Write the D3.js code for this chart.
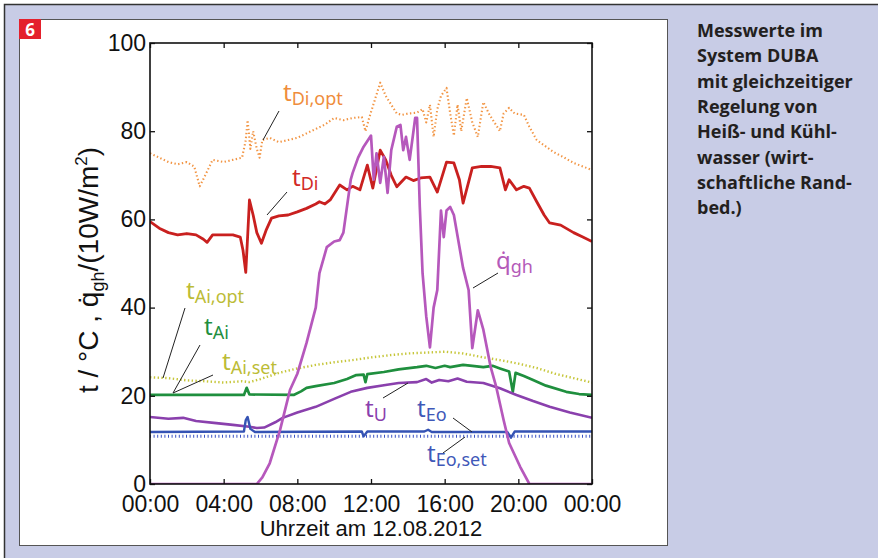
<!DOCTYPE html>
<html>
<head>
<meta charset="utf-8">
<script src="https://cdn.jsdelivr.net/npm/d3@7"></script>
<style>
    html, body { margin: 0; padding: 0; background: #fff; }
    svg { display: block; }
    .axis text { font-family: "Liberation Sans", Arial, sans-serif; font-size: 23px; fill: #111; }
    .axis line { stroke: #111; stroke-width: 1.3; }
    .lbl { font-family: "Noto Sans", sans-serif; }
    .caption { font-family: "Open Sans", sans-serif; font-weight: 700; font-size: 18px; fill: #231f20; }
</style>
</head>
<body>
<svg id="chart" width="878" height="558"></svg>
<script>
// tick positions (hours) and labels
const xTickHours = [0, 4, 8, 12, 16, 20, 24];
const xTickLabels = ['00:00', '04:00', '08:00', '12:00', '16:00', '20:00', '00:00'];
const yTicks = [0, 20, 40, 60, 80, 100];

// [hour, value]
const tDiOpt = [[0,75],[0.5,74],[1,73],[1.5,72.5],[2,73],[2.4,72],[2.7,67.5],[3,70],[3.4,73.5],[4,73],[4.5,73.5],[5,74],
    [5.2,78],[5.3,82.5],[5.45,76],[5.6,80],[5.8,76],[5.95,74],[6.1,78],[6.5,78.5],[7,77.5],[7.5,78],[8,78.5],[8.5,79.5],
    [9,80.5],[9.5,81.5],[10,83],[10.5,82.5],[11,83],[11.5,83.2],[11.7,80],[11.9,83],[12.2,87],[12.5,91],[12.8,88],[13.1,86],
    [13.4,84],[13.7,83.7],[14,84],[14.5,84.2],[14.8,85],[15,82],[15.2,86],[15.4,78.7],[15.6,85],[15.8,88],[16.1,89.8],
    [16.3,84],[16.5,79],[16.7,86],[16.9,80],[17.2,87.5],[17.5,82],[17.8,78.7],[18.1,86.6],[18.4,84],[18.7,82],[19,80],
    [19.2,84],[19.5,85.3],[19.8,84],[20.3,83.7],[20.6,81],[21,78],[21.5,76.5],[21.9,75.3],[22.5,74],[23,72.8],[23.5,72],[24,71.2]];

const tDi = [[0,59.5],[0.5,58],[1,57],[1.5,56.5],[2,56.8],[2.5,56.5],[2.9,55.5],[3.1,54.8],[3.4,56.5],[4,56.5],[4.5,56.5],
    [4.9,56],[5.05,53],[5.2,48],[5.3,56],[5.4,64.4],[5.6,61],[5.8,57],[6.05,54.6],[6.3,57.5],[6.6,60.3],[7,60.8],[7.5,61],
    [8,61.7],[8.5,62.5],[9,63.5],[9.2,64],[9.5,63.5],[9.8,64.5],[10.3,67.8],[10.7,66.7],[11,67.5],[11.4,66.7],[11.8,72.3],
    [12.1,67.1],[12.5,75.7],[12.8,73.5],[13.1,70],[13.4,67.4],[13.9,69.6],[14.3,68.8],[14.7,69.4],[15.2,69.6],[15.6,66.2],
    [16.1,73],[16.5,72.8],[16.8,69],[17,63.7],[17.5,71.7],[18,72],[18.5,72],[19,71.7],[19.3,66.7],[19.5,69],[19.9,66.7],
    [20.3,67.5],[20.6,67.1],[21,64],[21.4,61],[21.7,59.2],[22.3,58.7],[23,57],[23.5,56],[24,55]];

const qgh = [[0,0],[5.8,0],[6.1,1.5],[6.5,4.7],[7.06,12.2],[7.6,21.3],[8,25],[8.5,32],[9,40],[9.2,47.8],[9.6,53.7],[10,55],
    [10.3,55.3],[10.5,57],[10.9,69],[11,70.5],[11.3,74],[11.6,76.5],[12,79],[12.15,69],[12.3,75],[12.5,68.3],[12.7,74.2],
    [12.9,66],[13.1,75.7],[13.4,81],[13.6,81.4],[13.75,75.7],[13.9,78.7],[14.1,73.5],[14.4,83],[14.5,83],[14.65,62.8],
    [14.8,47.8],[15,38],[15.2,31],[15.4,40],[15.6,44],[15.8,62],[15.95,56],[16.1,62],[16.3,62.8],[16.5,61],[17,49],
    [17.3,44],[17.5,30.8],[17.8,39.4],[18.1,35],[18.5,26.5],[18.8,22],[19.2,14.5],[19.5,9.3],[20.1,3.9],[20.6,0],[24,0]];

const tAiOpt = [[0,24.2],[1,24],[2,23.5],[3,23.3],[4,23],[5,23.3],[5.4,23.1],[6,23.8],[7,25.2],[8,26.2],[9,27],[10,27.6],
    [11,28.1],[12,28.7],[13,29.2],[14,29.6],[15,29.8],[16,30],[17,29.6],[18,28.8],[19,28.1],[20,27.3],[21,26.3],[22,25],
    [23,24],[24,23]];

const tAi = [[0,20.2],[5.1,20.2],[5.25,21.8],[5.4,20.3],[7.8,20.2],[8.2,21],[8.5,21.8],[9,22.2],[10,22.9],[10.7,23.8],
    [11.2,24.7],[11.6,24.8],[11.7,23.1],[11.8,24.9],[12.7,25.4],[13.5,26],[14.5,26.5],[15,26.8],[15.5,26.3],[16,26.8],
    [16.3,26.5],[17,27],[17.5,26.8],[18.1,26.5],[18.6,26.8],[19,26.2],[19.5,25.5],[19.7,20.9],[19.85,25.2],[20.3,24.5],
    [20.8,23.6],[21.5,22.3],[22.6,20.9],[23.3,20.4],[24,20.2]];

const tU = [[0,15.2],[1,14.8],[1.8,15],[2.5,14.3],[3.6,13.8],[4.5,13.4],[5.4,13],[5.8,12.7],[6.2,12.8],[6.8,14],[7.2,15],
    [8,16.2],[9,17.5],[10,19.3],[10.9,20.9],[11.8,21.8],[12.7,22.4],[13.5,22.9],[14.5,23.1],[15,23.8],[15.3,23],[15.7,23.6],
    [16.2,23.3],[16.7,23.9],[17.2,23.2],[18.1,22.9],[19,21.7],[19.9,20.2],[20.8,18.8],[21.7,17.5],[22.8,16.2],[24,15]];

const tEo = [[0,11.8],[5.1,11.9],[5.2,14.5],[5.3,15.2],[5.45,12.5],[5.7,11.8],[11.5,11.9],[11.6,10.8],[11.8,11.9],
    [14.9,11.9],[15.1,12.3],[15.3,11.8],[19.4,11.8],[19.6,10.5],[19.8,11.9],[24,11.9]];

const tEoSet = [[0,10.8],[24,10.8]];

const svg = d3.select('#chart');

// page background, lavender box, white panel
svg.append('rect').attr('width', 878).attr('height', 558).attr('fill', '#fff');
svg.append('rect')
    .attr('x', 4.5).attr('y', 4.5).attr('width', 890).attr('height', 570)
    .attr('fill', '#c8cce6').attr('stroke', '#333').attr('stroke-width', 1.5);
svg.append('rect')
    .attr('x', 19.5).attr('y', 19.5).attr('width', 648).attr('height', 526)
    .attr('fill', '#fff').attr('stroke', '#555').attr('stroke-width', 1);

// figure number badge
svg.append('rect').attr('x', 19).attr('y', 19).attr('width', 22).attr('height', 20).attr('fill', '#e4202c');
svg.append('text')
    .attr('x', 30).attr('y', 35.5)
    .attr('text-anchor', 'middle')
    .attr('font-family', 'Open Sans, sans-serif').attr('font-weight', 700).attr('font-size', 17)
    .attr('fill', '#fff')
    .text('6');

// caption
const captionLines = ['Messwerte im', 'System DUBA', 'mit gleichzeitiger', 'Regelung von',
    'Heiß- und Kühl-', 'wasser (wirt-', 'schaftliche Rand-', 'bed.)'];
svg.append('text')
    .classed('caption', true)
    .selectAll('tspan')
    .data(captionLines)
    .join('tspan')
        .attr('x', 697)
        .attr('y', (d, i) => 37 + i * 25.3)
        .text(d => d);

const margin = {left: 150, right: 592, top: 43, bottom: 484};

const xScale = d3.scaleLinear().domain([0, 24]).range([margin.left, margin.right]);
const yScale = d3.scaleLinear().domain([0, 100]).range([margin.bottom, margin.top]);

svg.append('defs').append('clipPath').attr('id', 'plotClip')
    .append('rect')
    .attr('x', margin.left).attr('y', margin.top - 2)
    .attr('width', margin.right - margin.left).attr('height', margin.bottom - margin.top + 2);

const line = d3.line()
    .x(d => xScale(d[0]))
    .y(d => yScale(d[1]));

const plot = svg.append('g').attr('clip-path', 'url(#plotClip)');

const series = [
    {data: tEoSet, color: '#3a52c4', width: 3, dash: '1,2.6'},
    {data: tAiOpt, color: '#c6c63a', width: 2.4, dash: '1.4,2.4'},
    {data: tDiOpt, color: '#f29544', width: 2.1, dash: '1.4,2.4'},
    {data: tDi, color: '#c9201f', width: 2.8},
    {data: tAi, color: '#1f8f3e', width: 2.7},
    {data: tU, color: '#8a40ad', width: 2.6},
    {data: tEo, color: '#3553b4', width: 2.4},
    {data: qgh, color: '#b658bc', width: 2.7}
];

plot.selectAll('.series')
    .data(series)
    .join('path')
        .classed('series', true)
        .attr('d', d => line(d.data))
        .attr('fill', 'none')
        .attr('stroke', d => d.color)
        .attr('stroke-width', d => d.width)
        .attr('stroke-dasharray', d => d.dash || null)
        .attr('stroke-linejoin', 'round');

// axes (ticks inward, box style)
svg.append('g')
    .classed('axis', true)
    .attr('transform', `translate(0,${margin.bottom})`)
    .call(d3.axisBottom(xScale)
        .tickValues(xTickHours)
        .tickFormat((d, i) => xTickLabels[i])
        .tickSizeInner(-5).tickSizeOuter(0).tickPadding(12))
    .call(g => g.select('.domain').remove());

svg.append('g')
    .classed('axis', true)
    .attr('transform', `translate(0,${margin.top})`)
    .call(d3.axisTop(xScale).tickValues(xTickHours).tickFormat('').tickSizeInner(-5).tickSizeOuter(0))
    .call(g => g.select('.domain').remove());

svg.append('g')
    .classed('axis', true)
    .attr('transform', `translate(${margin.left},0)`)
    .call(d3.axisLeft(yScale)
        .tickValues(yTicks)
        .tickSizeInner(-5).tickSizeOuter(0).tickPadding(4))
    .call(g => g.select('.domain').remove());

svg.append('g')
    .classed('axis', true)
    .attr('transform', `translate(${margin.right},0)`)
    .call(d3.axisRight(yScale).tickValues(yTicks).tickFormat('').tickSizeInner(-5).tickSizeOuter(0))
    .call(g => g.select('.domain').remove());

svg.append('rect')
    .attr('x', margin.left).attr('y', margin.top)
    .attr('width', margin.right - margin.left).attr('height', margin.bottom - margin.top)
    .attr('fill', 'none').attr('stroke', '#111').attr('stroke-width', 1.6);

// axis titles
svg.append('text')
    .attr('x', (margin.left + margin.right) / 2).attr('y', 536)
    .attr('text-anchor', 'middle')
    .attr('font-family', 'Liberation Sans, Arial, sans-serif').attr('font-size', 22)
    .attr('fill', '#111')
    .text('Uhrzeit am 12.08.2012');

const yTitle = svg.append('text')
    .attr('transform', 'translate(98,270) rotate(-90)')
    .attr('text-anchor', 'middle')
    .attr('font-family', 'Liberation Sans, Arial, sans-serif').attr('font-size', 28)
    .attr('fill', '#111');
yTitle.append('tspan').text('t / \u00b0C ,  q\u0307');
yTitle.append('tspan').attr('font-size', 18).attr('dy', 6).text('gh');
yTitle.append('tspan').attr('dy', -6).text('/(10W/m');
yTitle.append('tspan').attr('font-size', 17).attr('dy', -11).text('2');
yTitle.append('tspan').attr('dy', 11).text(')');

// series labels with pointer lines
const labels = [
    {main: 't', sub: 'Di,opt', x: 283, y: 101, color: '#ef8d3c', from: [279, 111], to: [263, 140]},
    {main: 't', sub: 'Di', x: 292, y: 186, color: '#d22a26', from: [287, 192], to: [267, 215]},
    {main: 'q\u0307', sub: 'gh', x: 496, y: 269, color: '#b45ab9', from: [498, 273], to: [473, 288]},
    {main: 't', sub: 'Ai,opt', x: 186, y: 299, color: '#bcbc36', from: [185, 308], to: [163, 378]},
    {main: 't', sub: 'Ai', x: 204, y: 335, color: '#1f8f3e', from: [200, 345], to: [173, 393]},
    {main: 't', sub: 'Ai,set', x: 222, y: 370, color: '#bcbc36', from: [213, 375], to: [173, 393]},
    {main: 't', sub: 'U', x: 365, y: 417, color: '#8a40ad', from: [383, 398], to: [408, 383]},
    {main: 't', sub: 'Eo', x: 417, y: 417, color: '#3f58b8', from: [453, 418], to: [472, 432]},
    {main: 't', sub: 'Eo,set', x: 427, y: 462, color: '#3f58b8', from: [443, 453], to: [465, 437]}
];

svg.selectAll('.pointer')
    .data(labels)
    .join('line')
        .classed('pointer', true)
        .attr('x1', d => d.from[0]).attr('y1', d => d.from[1])
        .attr('x2', d => d.to[0]).attr('y2', d => d.to[1])
        .attr('stroke', '#222').attr('stroke-width', 1);

const lbl = svg.selectAll('.lbl')
    .data(labels)
    .join('text')
        .classed('lbl', true)
        .attr('x', d => d.x).attr('y', d => d.y)
        .attr('fill', d => d.color);
lbl.append('tspan').attr('font-size', 24).text(d => d.main);
lbl.append('tspan').attr('font-size', 18).attr('dy', 4).text(d => d.sub);
</script>
</body>
</html>
